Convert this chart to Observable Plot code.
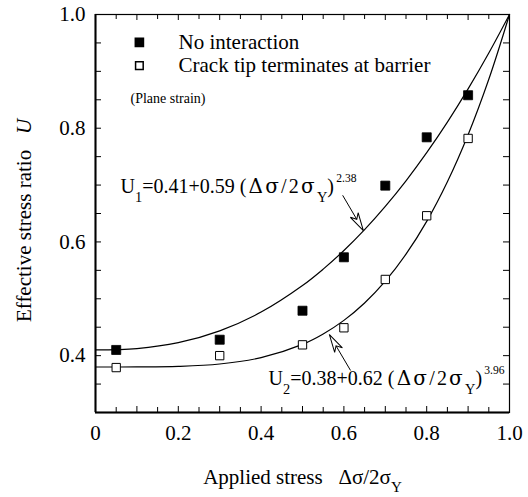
<!DOCTYPE html>
<html><head><meta charset="utf-8">
<script src="https://cdn.jsdelivr.net/npm/d3@7"></script>
<script src="https://cdn.jsdelivr.net/npm/@observablehq/plot@0.6"></script>
<style>
html,body{margin:0;padding:0;background:#fff}
#chart{width:528px;height:497px}
</style>
</head><body><div id="chart"></div>
<script>
// ---- data ----
const stressX = [0.05, 0.3, 0.5, 0.6, 0.7, 0.8, 0.9];
const uNoInteraction = [0.41, 0.428, 0.479, 0.573, 0.699, 0.784, 0.858];
const uBarrier = [0.379, 0.400, 0.419, 0.449, 0.534, 0.646, 0.782];

// fitted curves (U1 = 0.41+0.59 s^2.38, U2 = 0.38+0.62 s^3.96), read as points
const curveX = [0, 0.1, 0.2, 0.3, 0.4, 0.5, 0.55, 0.6, 0.65, 0.7, 0.75, 0.8, 0.85, 0.9, 0.95, 1.0];
const fitU1 = [0.410, 0.4125, 0.4228, 0.4436, 0.4766, 0.5233, 0.5522, 0.5849, 0.6216, 0.6625, 0.7075, 0.7569, 0.8107, 0.8691, 0.9322, 1.0];
const fitU2 = [0.380, 0.3801, 0.3811, 0.3853, 0.3965, 0.4198, 0.4381, 0.4620, 0.4926, 0.5310, 0.5784, 0.6362, 0.7058, 0.7885, 0.8860, 1.0];

const xTicks = [0, 0.2, 0.4, 0.6, 0.8, 1.0];
const yTicks = [0.4, 0.6, 0.8, 1.0];
const xMajorMinor = [0.1, 0.2, 0.3, 0.4, 0.5, 0.6, 0.7, 0.8, 0.9];
const xMinor = [0.05, 0.15, 0.25, 0.35, 0.45, 0.55, 0.65, 0.75, 0.85, 0.95];
const yMinor = [0.35, 0.4, 0.45, 0.5, 0.55, 0.6, 0.65, 0.7, 0.75, 0.8, 0.85, 0.9, 0.95];

const legendLabels = ["No interaction", "Crack tip terminates at barrier"];
const noteLabel = "(Plane strain)";
const eq1Label = "U_{1}=0.41+0.59 ~{(}g{Δσ}~{/2}g{σ}_{Y}~{)}^{2.38}";
const eq2Label = "U_{2}=0.38+0.62 ~{(}g{Δσ}~{/2}g{σ}_{Y}~{)}^{3.96}";
const xTitle = "Applied stress \u2002Δσ/2σ_{Y}";
const yTitle = "Effective stress ratio \u2002*{U}";

// ---- layout ----
const W = 528, H = 497, mL = 95, mR = 19, mT = 14, mB = 85;
const fh = H - mT - mB;
const serif = "'Liberation Serif','Times New Roman',Times,serif";
const fmt = d => d === 0 ? "0" : d.toFixed(1);

// annotation anchors (data coordinates)
const legendRows = [
  {label: legendLabels[0], x: 0.106, y: 0.951, tx: 0.2005, ty: 0.9397, filled: true},
  {label: legendLabels[1], x: 0.106, y: 0.910, tx: 0.2005, ty: 0.899, filled: false}
];
const arrows = [
  {x1: 0.597, y1: 0.682, x2: 0.647, y2: 0.620, angle: 149.6},
  {x1: 0.616, y1: 0.374, x2: 0.565, y2: 0.437, angle: -30.5}
];
const arrowHead = {
  draw(ctx) {
    ctx.moveTo(0, 0);
    ctx.lineTo(-4.5, 18);
    ctx.lineTo(0, 13);
    ctx.lineTo(4.5, 18);
    ctx.closePath();
  }
};

const points1 = stressX.map((x, i) => ({x, u: uNoInteraction[i]}));
const points2 = stressX.map((x, i) => ({x, u: uBarrier[i]}));
const curve1 = curveX.map((x, i) => ({x, u: fitU1[i]}));
const curve2 = curveX.map((x, i) => ({x, u: fitU2[i]}));

const plot = Plot.plot({
  width: W, height: H,
  marginLeft: mL, marginRight: mR, marginTop: mT, marginBottom: mB,
  style: {fontFamily: serif, fontSize: "21px", background: "white", color: "black"},
  x: {domain: [0, 1]},
  y: {domain: [0.3, 1.0]},
  marks: [
    // inward ticks
    Plot.tickX(xMajorMinor, {x: d => d, insetTop: fh - 6, stroke: "black"}),
    Plot.tickX(xMinor, {x: d => d, insetTop: fh - 5, stroke: "black"}),
    Plot.tickX(xMajorMinor, {x: d => d, insetBottom: fh - 6, stroke: "black"}),
    Plot.tickX(xMinor, {x: d => d, insetBottom: fh - 5, stroke: "black"}),
    Plot.tickY(yMinor, {y: d => d, insetRight: 414 - 6, stroke: "black"}),
    Plot.tickY(yMinor, {y: d => d, insetLeft: 414 - 6, stroke: "black"}),
    Plot.axisX({ticks: xTicks, tickSize: 0, tickPadding: 13, tickFormat: fmt, label: null}),
    Plot.axisY({ticks: yTicks, tickSize: 0, tickPadding: 10, tickFormat: fmt, label: null}),
    Plot.frame({stroke: "black", strokeWidth: 1.2}),
    Plot.ruleX([0], {stroke: "black", strokeWidth: 2}),
    Plot.ruleY([0.3], {stroke: "black", strokeWidth: 2}),
    // fitted curves
    Plot.line(curve1, {x: "x", y: "u", curve: "catmull-rom", stroke: "black", strokeWidth: 1.2}),
    Plot.line(curve2, {x: "x", y: "u", curve: "catmull-rom", stroke: "black", strokeWidth: 1.2}),
    // data points
    Plot.dot(points1, {x: "x", y: "u", symbol: "square", r: 5.1, fill: "black", stroke: "black", strokeWidth: 0.8}),
    Plot.dot(points2, {x: "x", y: "u", symbol: "square", r: 4.7, fill: "white", stroke: "black", strokeWidth: 1}),
    // legend
    Plot.dot(legendRows.filter(d => d.filled), {x: "x", y: "y", symbol: "square", r: 4.6, fill: "black", stroke: "black"}),
    Plot.dot(legendRows.filter(d => !d.filled), {x: "x", y: "y", symbol: "square", r: 4.3, fill: "white", stroke: "black"}),
    Plot.text(legendRows, {x: "tx", y: "ty", text: "label", textAnchor: "start", lineAnchor: "bottom", fontSize: 21, fill: "black"}),
    Plot.text([noteLabel], {x: () => 0.0845, y: () => 0.8435, text: d => d, textAnchor: "start", lineAnchor: "bottom", fontSize: 14, fill: "black"}),
    // equations
    Plot.text([eq1Label], {x: () => 0.0604, y: () => 0.6852, text: d => d, textAnchor: "start", lineAnchor: "bottom", fontSize: 20, fill: "black"}),
    Plot.text([eq2Label], {x: () => 0.418, y: () => 0.3475, text: d => d, textAnchor: "start", lineAnchor: "bottom", fontSize: 20, fill: "black"}),
    // arrows
    Plot.link(arrows, {x1: "x1", y1: "y1", x2: "x2", y2: "y2", stroke: "black", strokeWidth: 1}),
    Plot.dot(arrows, {x: "x2", y: "y2", symbol: arrowHead, rotate: "angle", fill: "white", stroke: "black", strokeWidth: 1}),
    // axis titles
    Plot.text([xTitle], {frameAnchor: "bottom", dy: 71, text: d => d, textAnchor: "middle", lineAnchor: "bottom", fontSize: 21, fill: "black"}),
    Plot.text([yTitle], {frameAnchor: "left", dx: -65, dy: 7, rotate: -90, text: d => d, textAnchor: "middle", lineAnchor: "bottom", fontSize: 21, fill: "black"})
  ]
});

document.getElementById("chart").appendChild(plot);

// rich text: _{sub} ^{sup} *{italic} ~{spaced} g{greek in wider serif}
const NS = "http://www.w3.org/2000/svg";
plot.querySelectorAll("text").forEach(t => {
  const s = t.textContent;
  if (!/[_^*~g]\{/.test(s)) return;
  const fs = parseFloat(getComputedStyle(t).fontSize);
  const re = /([_^*~g])\{([^}]*)\}/g;
  const segs = [];
  let last = 0, m;
  while ((m = re.exec(s))) {
    if (m.index > last) segs.push({t: s.slice(last, m.index), k: ""});
    segs.push({t: m[2], k: m[1]});
    last = re.lastIndex;
  }
  if (last < s.length) segs.push({t: s.slice(last), k: ""});
  while (t.firstChild) t.removeChild(t.firstChild);
  let cur = 0;
  segs.forEach(g => {
    const ts = document.createElementNS(NS, "tspan");
    let off = 0;
    if (g.k === "_") { off = 0.42 * fs; ts.setAttribute("font-size", 0.72 * fs); }
    if (g.k === "^") { off = -0.55 * fs; ts.setAttribute("font-size", 0.58 * fs); }
    if (g.k === "*") ts.setAttribute("font-style", "italic");
    if (g.k === "~") ts.setAttribute("letter-spacing", 2.2);
    if (g.k === "g") { ts.setAttribute("font-family", "'DejaVu Serif',serif"); ts.setAttribute("letter-spacing", 2.2); }
    if (off !== cur) ts.setAttribute("dy", off - cur);
    cur = off;
    ts.textContent = g.t;
    t.appendChild(ts);
  });
});
</script>
</body></html>
